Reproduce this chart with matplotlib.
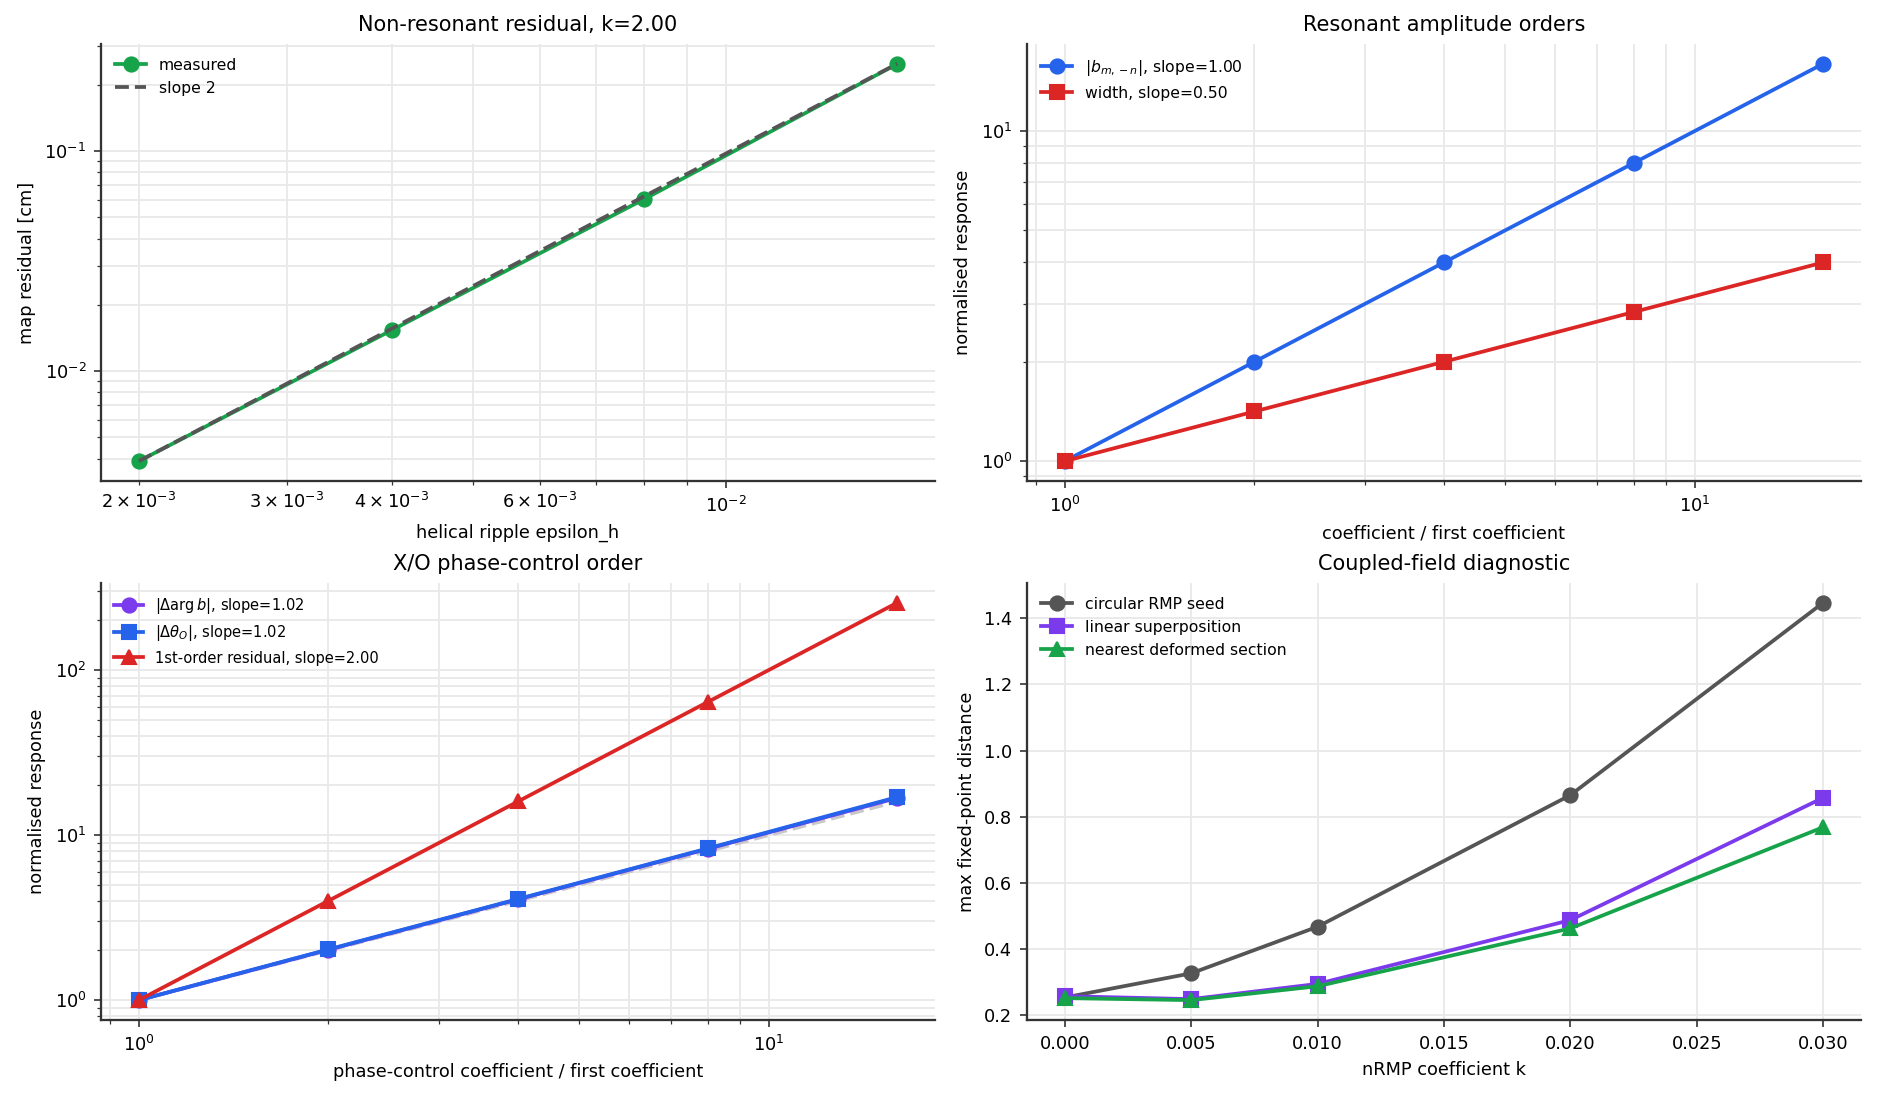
import numpy as np
import matplotlib
matplotlib.use("Agg")
import matplotlib.pyplot as plt

# non-resonant residual scan
eps_h = [0.002, 0.004, 0.008, 0.016]
residual = [0.0039, 0.01535, 0.0606, 0.249]

# resonant amplitude scan
coef_ratio = [1, 2, 4, 8, 16]
b_amp = [1.0, 2.0, 4.0, 8.0, 16.0]
width = [1.0, 1.414, 2.0, 2.83, 4.0]

# X/O phase control scan
phase_ratio = [1, 2, 4, 8, 16]
dargb = [1.0, 2.02, 4.08, 8.25, 16.8]
dtheta_o = [1.0, 2.03, 4.10, 8.30, 17.0]
first_order = [1.0, 4.0, 16.0, 64.0, 256.0]

# coupled-field diagnostic
k_vals = [0.0, 0.005, 0.01, 0.02, 0.03]
circ_seed = [0.253, 0.326, 0.467, 0.865, 1.447]
lin_sup = [0.257, 0.248, 0.294, 0.487, 0.857]
nearest_def = [0.251, 0.245, 0.287, 0.462, 0.768]

green = "#16a34a"
blue = "#2563eb"
red = "#dc2626"
purple = "#7c3aed"
gray = "#555555"

plt.rcParams["font.family"] = "DejaVu Sans"
plt.rcParams["axes.edgecolor"] = "#333333"
plt.rcParams["axes.linewidth"] = 1.1
plt.rcParams["xtick.color"] = "#333333"
plt.rcParams["ytick.color"] = "#333333"
plt.rcParams["xtick.labelcolor"] = "black"
plt.rcParams["ytick.labelcolor"] = "black"
plt.rcParams["xtick.labelsize"] = 8.5
plt.rcParams["ytick.labelsize"] = 8.5
plt.rcParams["axes.labelsize"] = 8.5
plt.rcParams["axes.titlesize"] = 10

fig, axs = plt.subplots(2, 2, figsize=(1877/150, 1097/150), dpi=150)
plt.subplots_adjust(left=0.0538, right=0.9915, top=0.960, bottom=0.0702,
                    wspace=0.110, hspace=0.233)

def style(ax):
    ax.spines["top"].set_visible(False)
    ax.spines["right"].set_visible(False)
    ax.grid(True, which="both", color="#e9e9e9", linewidth=0.9)
    ax.set_axisbelow(True)

lw = 1.8
ms = 6.8

# top left
ax = axs[0, 0]
style(ax)
ax.plot(eps_h, residual, marker="o", color=green, lw=lw, ms=ms, label="measured")
ref = residual[0] * (np.array(eps_h) / eps_h[0]) ** 2
ax.plot(eps_h, ref, "--", color=gray, lw=lw, label="slope 2")
ax.set_xscale("log")
ax.set_yscale("log")
ax.set_xlabel("helical ripple epsilon_h")
ax.set_ylabel("map residual [cm]")
ax.set_title("Non-resonant residual, k=2.00")
ax.legend(frameon=False, fontsize=7.5, loc="upper left")

# top right
ax = axs[0, 1]
style(ax)
ax.plot(coef_ratio, b_amp, marker="o", color=blue, lw=lw, ms=ms,
        label=r"$|b_{m,-n}|$, slope=1.00")
ax.plot(coef_ratio, width, marker="s", color=red, lw=lw, ms=ms,
        label="width, slope=0.50")
ax.set_xscale("log")
ax.set_yscale("log")
ax.set_xlabel("coefficient / first coefficient")
ax.set_ylabel("normalised response")
ax.set_title("Resonant amplitude orders")
ax.legend(frameon=False, fontsize=7.5, loc="upper left")

# bottom left
ax = axs[1, 0]
style(ax)
ax.plot([phase_ratio[0], phase_ratio[-1]], [1.0, 16.0], "--", color="#c8c8c8",
        lw=lw, zorder=1)
ax.plot(phase_ratio, dargb, marker="o", color=purple, lw=lw, ms=ms,
        label=r"$|\Delta \arg b|$, slope=1.02")
ax.plot(phase_ratio, dtheta_o, marker="s", color=blue, lw=lw, ms=ms,
        label=r"$|\Delta \theta_O|$, slope=1.02")
ax.plot(phase_ratio, first_order, marker="^", color=red, lw=lw, ms=ms,
        label="1st-order residual, slope=2.00")
ax.set_xscale("log")
ax.set_yscale("log")
ax.set_xlabel("phase-control coefficient / first coefficient")
ax.set_ylabel("normalised response")
ax.set_title("X/O phase-control order")
ax.legend(frameon=False, fontsize=7, loc="upper left")

# bottom right
ax = axs[1, 1]
style(ax)
ax.plot(k_vals, circ_seed, marker="o", color=gray, lw=lw, ms=ms,
        label="circular RMP seed")
ax.plot(k_vals, lin_sup, marker="s", color=purple, lw=lw, ms=ms,
        label="linear superposition")
ax.plot(k_vals, nearest_def, marker="^", color=green, lw=lw, ms=ms,
        label="nearest deformed section")
ax.set_xlabel("nRMP coefficient k")
ax.set_ylabel("max fixed-point distance")
ax.set_title("Coupled-field diagnostic")
ax.legend(frameon=False, fontsize=7.5, loc="upper left")

fig.savefig("out.png", dpi=150)
